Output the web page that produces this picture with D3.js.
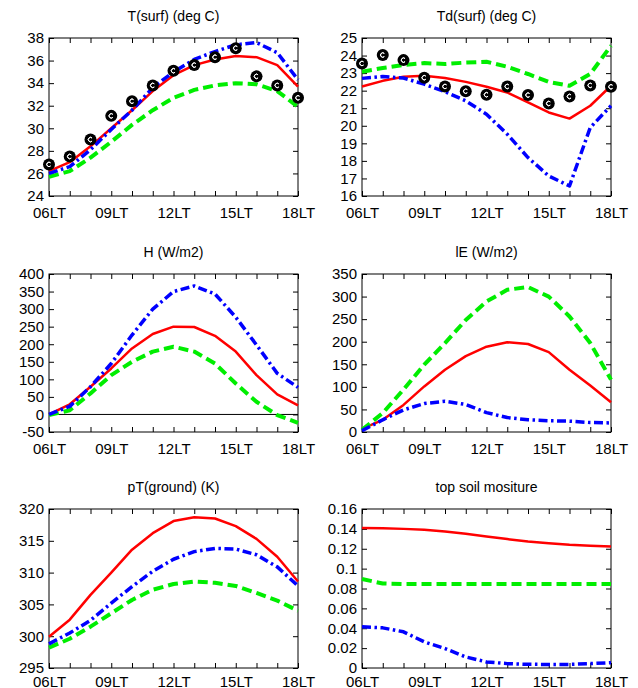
<!DOCTYPE html>
<html>
<head>
<meta charset="utf-8">
<script src="https://cdn.jsdelivr.net/npm/d3@7"></script>
<style>
  body { margin: 0; background: #fff; }
  svg { display: block; font-family: "Liberation Sans", Arial, sans-serif; }
</style>
</head>
<body>
<svg id="chart"></svg>
<script>
// hours of the day (local time)
let hours = [6, 7, 8, 9, 10, 11, 12, 13, 14, 15, 16, 17, 18]
let hourLabels = {6: '06LT', 9: '09LT', 12: '12LT', 15: '15LT', 18: '18LT'}

// T(surf)
let tsurfObs   = [26.8, 27.5, 29.0, 31.1, 32.4, 33.8, 35.1, 35.6, 36.3, 37.1, 34.6, 33.8, 32.7]
let tsurfRed   = [26.2, 27.0, 28.4, 30.0, 31.6, 33.3, 34.7, 35.6, 36.1, 36.4, 36.3, 35.6, 33.7]
let tsurfGreen = [25.7, 26.2, 27.4, 28.8, 30.3, 31.6, 32.7, 33.4, 33.8, 34.0, 33.9, 33.3, 31.9]
let tsurfBlue  = [26.0, 26.6, 28.1, 29.9, 31.6, 33.6, 35.0, 36.1, 36.8, 37.4, 37.6, 36.7, 34.3]
let tsurfTicks = [24, 26, 28, 30, 32, 34, 36, 38]

// Td(surf)
let tdObs   = [23.55, 24.03, 23.74, 22.74, 22.24, 21.97, 21.77, 22.24, 21.75, 21.27, 21.67, 22.30, 22.22]
let tdRed   = [22.24, 22.56, 22.79, 22.85, 22.72, 22.50, 22.22, 21.90, 21.33, 20.76, 20.41, 21.14, 22.28]
let tdGreen = [23.08, 23.29, 23.46, 23.57, 23.52, 23.60, 23.65, 23.36, 22.95, 22.50, 22.28, 22.95, 24.56]
let tdBlue  = [22.70, 22.81, 22.72, 22.37, 21.94, 21.42, 20.66, 19.52, 18.19, 17.14, 16.57, 19.90, 21.14]
let tdTicks = [16, 17, 18, 19, 20, 21, 22, 23, 24, 25]

// H (W/m2)
let hRed   = [0, 29, 79, 131, 188, 229, 250, 249, 224, 179, 112, 57, 26]
let hGreen = [-2, 12, 60, 112, 150, 179, 193, 179, 145, 88, 36, -2, -24]
let hBlue  = [0, 23, 79, 145, 226, 300, 350, 366, 343, 277, 198, 117, 77]
let hTicks = [-50, 0, 50, 100, 150, 200, 250, 300, 350, 400]

// lE (W/m2)
let leRed   = [7, 27, 60, 101, 138, 168, 189, 199, 195, 177, 138, 103, 66]
let leGreen = [5, 42, 94, 149, 197, 248, 289, 315, 321, 300, 256, 197, 116]
let leBlue  = [3, 27, 49, 63, 68, 61, 43, 32, 27, 25, 24, 21, 20]
let leTicks = [0, 50, 100, 150, 200, 250, 300, 350]

// pT(ground) (K)
let ptRed   = [299.9, 302.6, 306.5, 310.0, 313.6, 316.2, 318.1, 318.7, 318.5, 317.3, 315.3, 312.5, 308.6]
let ptGreen = [298.2, 299.6, 301.5, 303.6, 305.7, 307.3, 308.2, 308.6, 308.4, 307.9, 306.8, 305.6, 304.0]
let ptBlue  = [298.8, 300.5, 302.5, 305.2, 307.8, 310.2, 312.1, 313.3, 313.8, 313.7, 312.8, 310.9, 307.9]
let ptTicks = [295, 300, 305, 310, 315, 320]

// top soil moisture
let smRed   = [0.1408, 0.1406, 0.1400, 0.1390, 0.1374, 0.1350, 0.1324, 0.1297, 0.1273, 0.1256, 0.1240, 0.1230, 0.1223]
let smGreen = [0.0895, 0.0850, 0.0845, 0.0845, 0.0845, 0.0845, 0.0845, 0.0845, 0.0845, 0.0845, 0.0845, 0.0845, 0.0845]
let smBlue  = [0.0414, 0.0404, 0.0364, 0.0263, 0.0196, 0.0111, 0.0061, 0.0044, 0.0037, 0.0036, 0.0036, 0.0044, 0.0054]
let smTicks = [0, 0.02, 0.04, 0.06, 0.08, 0.1, 0.12, 0.14, 0.16]

let width = 638
let height = 688

let svg = d3.select('#chart')
    .attr('width', width)
    .attr('height', height)

let panels = [
    {title: 'T(surf) (deg C)', col: 0, row: 0, ticks: tsurfTicks, red: tsurfRed, green: tsurfGreen, blue: tsurfBlue, obs: tsurfObs},
    {title: 'Td(surf) (deg C)', col: 1, row: 0, ticks: tdTicks, red: tdRed, green: tdGreen, blue: tdBlue, obs: tdObs},
    {title: 'H (W/m2)', col: 0, row: 1, ticks: hTicks, red: hRed, green: hGreen, blue: hBlue, zero: true},
    {title: 'lE (W/m2)', col: 1, row: 1, ticks: leTicks, red: leRed, green: leGreen, blue: leBlue},
    {title: 'pT(ground) (K)', col: 0, row: 2, ticks: ptTicks, red: ptRed, green: ptGreen, blue: ptBlue},
    {title: 'top soil mositure', col: 1, row: 2, ticks: smTicks, red: smRed, green: smGreen, blue: smBlue}
]

let colX = [[49, 298], [362, 611]]
let rowY = [[38, 196], [274, 432], [509, 668]]
// bottom row sits at the page edge, labels get pulled up a bit so they fit
let xLabelPad = [11, 11, 8]

let styles = {
    red:   {color: '#ff0000', width: 2.5, dash: null},
    green: {color: '#00ee00', width: 4,   dash: '10,5'},
    blue:  {color: '#0000ff', width: 3.5, dash: '9,3.5,2.5,3.5'}
}

let fmtTick = (v) => String(+v.toFixed(2))

let drawPanel = (p) => {
    let [x0, x1] = colX[p.col]
    let [y0, y1] = rowY[p.row]

    let xscale = d3.scaleLinear().domain([6, 18]).range([x0, x1])
    let yscale = d3.scaleLinear()
        .domain([d3.min(p.ticks), d3.max(p.ticks)])
        .range([y1, y0])

    let g = svg.append('g')

    // title
    g.append('text')
        .attr('x', (x0 + x1) / 2)
        .attr('y', y0 - 17)
        .attr('text-anchor', 'middle')
        .style('font-size', '14px')
        .text(p.title)

    // axes with inward ticks, gnuplot style
    let xBottom = d3.axisBottom(xscale)
        .tickValues(hours)
        .tickSizeInner(-5).tickSizeOuter(0).tickPadding(xLabelPad[p.row])
        .tickFormat((h) => hourLabels[h] || '')
    let xTop = d3.axisTop(xscale)
        .tickValues(hours)
        .tickSizeInner(-5).tickSizeOuter(0)
        .tickFormat('')
    let yLeft = d3.axisLeft(yscale)
        .tickValues(p.ticks)
        .tickSizeInner(-5).tickSizeOuter(0).tickPadding(5)
        .tickFormat(fmtTick)
    let yRight = d3.axisRight(yscale)
        .tickValues(p.ticks)
        .tickSizeInner(-5).tickSizeOuter(0)
        .tickFormat('')

    g.append('g').attr('transform', 'translate(0,' + y1 + ')').call(xBottom)
    g.append('g').attr('transform', 'translate(0,' + y0 + ')').call(xTop)
    g.append('g').attr('transform', 'translate(' + x0 + ',0)').call(yLeft)
    g.append('g').attr('transform', 'translate(' + x1 + ',0)').call(yRight)

    g.selectAll('.domain').remove()
    g.selectAll('.tick text')
        .style('font-size', '15px')
        .style('font-family', '"Liberation Sans", Arial, sans-serif')
        .attr('fill', '#000')
    g.selectAll('.tick line').attr('stroke', '#000')

    // frame
    g.append('rect')
        .attr('x', x0).attr('y', y0)
        .attr('width', x1 - x0).attr('height', y1 - y0)
        .attr('fill', 'none')
        .attr('stroke', '#000')
        .attr('stroke-width', 1)

    if (p.zero) {
        g.append('line')
            .attr('x1', x0).attr('x2', x1)
            .attr('y1', yscale(0)).attr('y2', yscale(0))
            .attr('stroke', '#000')
            .attr('stroke-width', 1)
    }

    let line = (vals) => d3.line()
        .x((d, i) => xscale(hours[i]))
        .y((d) => yscale(d))(vals)

    ;['red', 'green', 'blue'].forEach((key) => {
        let st = styles[key]
        g.append('path')
            .attr('d', line(p[key]))
            .attr('fill', 'none')
            .attr('stroke', st.color)
            .attr('stroke-width', st.width)
            .attr('stroke-dasharray', st.dash)
            .attr('stroke-linejoin', 'round')
    })

    if (p.obs) {
        let pts = g.selectAll('.obs')
            .data(p.obs)
            .enter()
            .append('g')
            .attr('class', 'obs')
            .attr('transform', (d, i) => 'translate(' + xscale(hours[i]) + ',' + yscale(d) + ')')
        pts.append('circle')
            .attr('r', 6)
            .attr('fill', '#000')
        pts.append('path')
            .attr('d', d3.arc()({innerRadius: 2.2, outerRadius: 2.2, startAngle: 0.8, endAngle: 2 * Math.PI - 0.8}))
            .attr('transform', 'rotate(90)')
            .attr('fill', 'none')
            .attr('stroke', '#fff')
            .attr('stroke-width', 1)
    }
}

panels.forEach(drawPanel)
</script>
</body>
</html>
